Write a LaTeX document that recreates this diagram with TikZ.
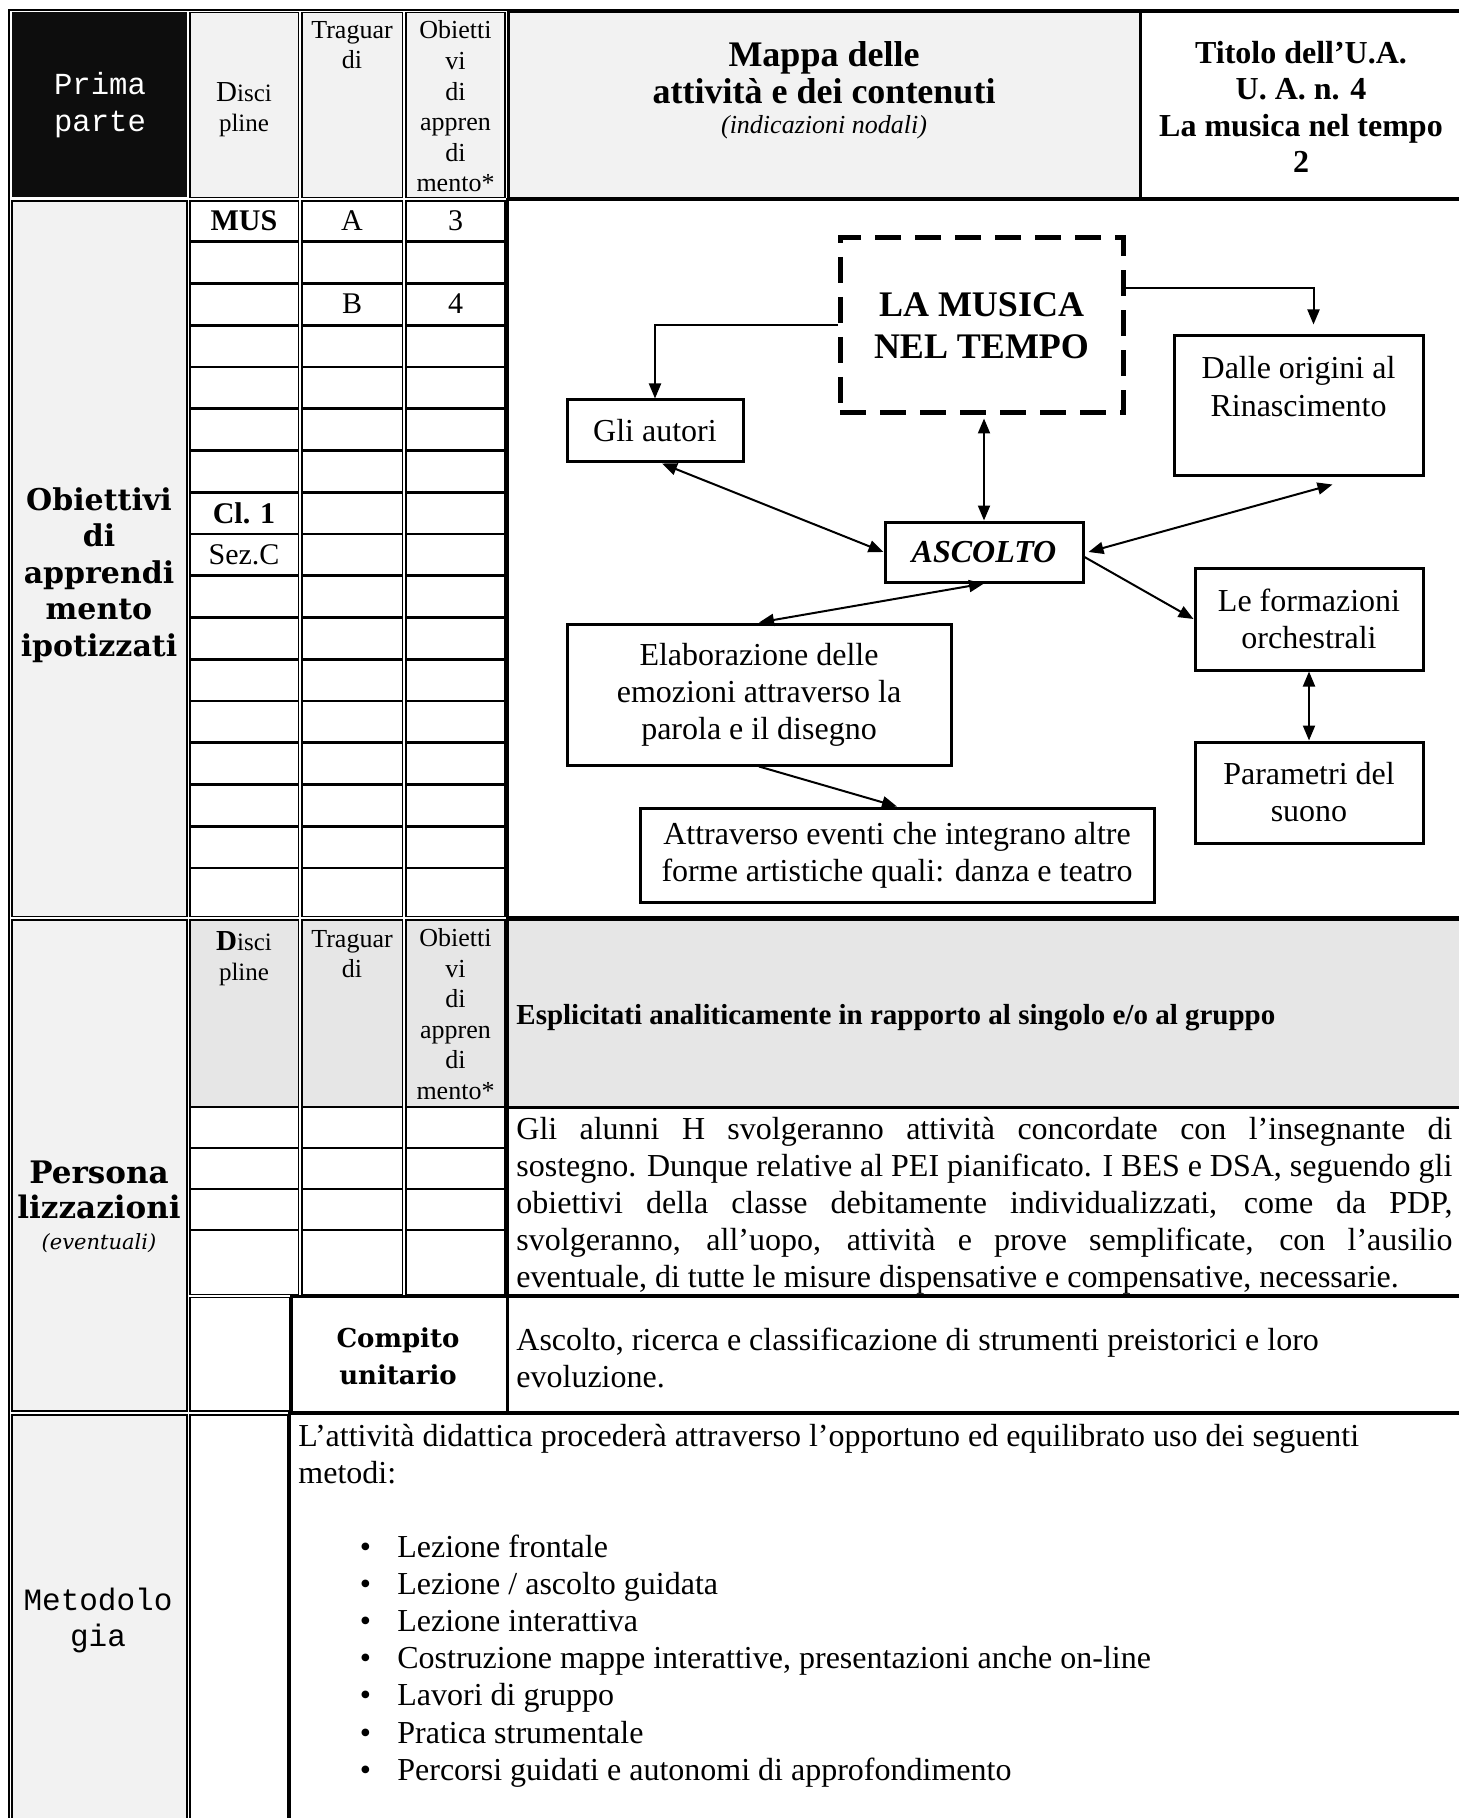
\documentclass[tikz,border=0pt]{standalone}
\usepackage{fontspec}
\setmainfont{Liberation Serif}
\newfontfamily\monof{Liberation Mono}
\newfontfamily\widef{DejaVu Serif}
\usetikzlibrary{arrows.meta,calc}
\newcommand\fsz[2]{\fontsize{#1}{#2}\selectfont}
\newcommand\blt{\makebox[18.8pt][l]{•}}
\definecolor{gF}{HTML}{F2F2F2}
\definecolor{gE}{HTML}{E6E6E6}
\definecolor{blk}{HTML}{0D0D0D}
\begin{document}
\begin{tikzpicture}[x=0.5pt,y=-0.5pt,
  cellthin/.style={line width=0.65pt},
  cellthick/.style={line width=1.5pt},
  rowln/.style={line width=1.3pt},
  mbox/.style={draw, line width=1.5pt, fill=white, align=center, inner sep=0pt, font=\fsz{16}{18.5}},
  conn/.style={line width=1pt},
  arr/.style={conn, -{Triangle[length=7.5pt,width=6pt]}},
  dbl/.style={conn, {Triangle[length=7.5pt,width=6pt]}-{Triangle[length=7.5pt,width=6pt]}},
  txt/.style={inner sep=0pt, align=center}]
\useasboundingbox (0,0) rectangle (1459,1818);
\clip (0,0) rectangle (1459,1818);
\fill[white] (0,0) rectangle (1459,1818);
% outer frame
\draw[line width=1pt] (9,1830) -- (9,10) -- (1475,10);
% ---------- header row
\fill[blk] (12,12.5) rectangle (187,197.5);
\filldraw[fill=gF, cellthin] (190,12.5) rectangle (298.5,197.5);
\filldraw[fill=gF, cellthin] (302,12.5) rectangle (402.5,197.5);
\filldraw[fill=gF, cellthin] (406,12.5) rectangle (505,197.5);
\filldraw[fill=gF, cellthick] (508,11.5) rectangle (1140,198.5);
\draw[cellthick] (1140,11.5) rectangle (1480,198.5);
% ---------- section 1
\filldraw[fill=gF, cellthin] (12,201) rectangle (187,916.5);
\foreach \xa/\xb in {190/298.5, 302/402.5, 406/505} {
  \draw[cellthin] (\xa,201) rectangle (\xb,916.5);
  \foreach \k in {1,...,16} { \draw[rowln] (\xa,200+\k*41.75) -- (\xb,200+\k*41.75); }
}
\draw[cellthick] (507.5,199.5) rectangle (1480,917);
% ---------- section 2
\filldraw[fill=gF, cellthin] (12,920) rectangle (187,1411);
\foreach \xa/\xb in {190/298.5, 302/402.5, 406/505} {
  \fill[gE] (\xa,920) rectangle (\xb,1107);
  \draw[cellthin] (\xa,920) rectangle (\xb,1294.5);
  \foreach \yy in {1107,1148,1189,1230} { \draw[rowln] (\xa,\yy) -- (\xb,\yy); }
}
\filldraw[fill=gE, cellthick] (507.5,919) rectangle (1480,1107);
\draw[cellthick] (507.5,1107) rectangle (1480,1295);
\draw[cellthin] (190,1297.5) rectangle (290,1411);
\draw[cellthick] (291.5,1296.5) rectangle (507.5,1412.5);
\draw[cellthick] (507.5,1296.5) rectangle (1480,1412.5);
% ---------- section 3
\filldraw[fill=gF, cellthin] (12,1415) rectangle (187,1830);
\draw[cellthin] (190,1415) rectangle (288,1830);
\draw[cellthick] (289.5,1413.5) rectangle (1480,1830);

% ---------- header texts
\node[txt, font=\monof\fsz{15.3}{18.5}, text=white] (lprima) at (100,105.5) {Prima\\parte};
\node[txt, font=\fsz{12.5}{15}] (hdisc) at (244,110) {{\fsz{14.5}{15}D}isci\\pline};
\node[txt, font=\fsz{13}{15}] (htrag) at (352,45) {Traguar\\di};
\node[txt, font=\fsz{13}{15.3}] (hobj) at (455.5,106.5) {Obietti\\vi\\di\\appren\\di\\mento*};
\node[txt, font=\fsz{18}{18.5}\bfseries] (hmap) at (824,73) {Mappa delle\\attività e dei contenuti};
\node[txt, font=\fsz{13}{15}\itshape] (hmapsub) at (824,127) {(indicazioni nodali)};
\node[txt, font=\fsz{16}{18.3}\bfseries] (htit) at (1301,107) {Titolo dell’U.A.\\U. A. n. 4\\La musica nel tempo\\2};

% ---------- section 1 texts
\node[txt, font=\widef\bfseries\fsz{15}{18.3}] (lobj) at (99,575) {Obiettivi\\di\\apprendi\\mento\\ipotizzati};
\node[txt, font=\fsz{15}{17}\bfseries] (mus) at (244,221) {MUS};
\node[txt, font=\fsz{15}{17}] (ta) at (352,221) {A};
\node[txt, font=\fsz{15}{17}] (o3) at (455.5,221) {3};
\node[txt, font=\fsz{15}{17}] (tb) at (352,304) {B};
\node[txt, font=\fsz{15}{17}] (o4) at (455.5,304) {4};
\node[txt, font=\fsz{15}{17}\bfseries] (cl1) at (244,513) {Cl. 1};
\node[txt, font=\fsz{15}{17}] (sezc) at (244,555) {Sez.C};

% ---------- map
\node[draw, line width=2.5pt, dash pattern=on 13pt off 7pt, minimum width=141.5pt, minimum height=87.5pt, align=center, inner sep=0pt, font=\fsz{18}{21}\bfseries] (musica) at (981.5,325.5) {LA MUSICA\\NEL TEMPO};
\node[mbox, minimum width=88pt, minimum height=31pt] (autori) at (655,431) {Gli autori};
\node[mbox, minimum width=124.5pt, minimum height=69.5pt] (dalle) at (1298.5,405.5) {};
\node[txt, font=\fsz{16}{19}] (dalleT) at (1298.5,387) {Dalle origini al\\Rinascimento};
\node[mbox, minimum width=99pt, minimum height=30pt, font=\fsz{16}{18.5}\bfseries\itshape] (ascolto) at (984,552) {ASCOLTO};
\node[mbox, minimum width=114pt, minimum height=51pt] (formaz) at (1309,619) {Le formazioni\\orchestrali};
\node[mbox, minimum width=114pt, minimum height=50.5pt] (param) at (1309,792.5) {Parametri del\\suono};
\node[mbox, minimum width=192pt, minimum height=70.5pt] (elab) at (759,694.5) {Elaborazione delle\\emozioni attraverso la\\parola e il disegno};
\node[mbox, minimum width=257pt, minimum height=47pt] (attr) at (897,855) {Attraverso eventi che integrano altre\\forme artistiche quali: danza e teatro};

\draw[arr] (musica.west) -| (autori.north);
\draw[arr, shorten >=5pt] ($(musica.north east)!0.29!(musica.south east)$) -| ([xshift=7.5pt]dalle.north);
\draw[dbl, shorten <=1.5pt] (musica.south -| ascolto.north) -- (ascolto.north);
\draw[dbl] ([xshift=3.5pt]autori.south) -- (ascolto.west);
\draw[dbl] ([xshift=17pt,yshift=-4pt]dalle.south) -- ([xshift=2pt]ascolto.east);
\draw[dbl] (ascolto.south) -- (elab.north);
\draw[arr] ([yshift=-2.5pt]ascolto.east) -- (formaz.west);
\draw[dbl] (formaz.south) -- (param.north);
\draw[arr] (elab.south) -- (attr.north);

% ---------- section 2 texts
\node[txt, font=\widef\bfseries\fsz{15.5}{17.5}] (lpers) at (99,1189.5) {Persona\\lizzazioni};
\node[txt, font=\widef\itshape\fsz{10.5}{12}] (leven) at (99,1243.5) {(eventuali)};
\node[txt, font=\fsz{12.5}{15}] (hdisc2) at (244,959) {{\fsz{14.5}{15}\bfseries D}isci\\pline};
\node[txt, font=\fsz{13}{15}] (htrag2) at (352,954) {Traguar\\di};
\node[txt, font=\fsz{13}{15.3}] (hobj2) at (455.5,1014) {Obietti\\vi\\di\\appren\\di\\mento*};
\node[anchor=west, inner sep=0pt, font=\fsz{14.5}{17}\bfseries] (hexp) at (516,1018) {Esplicitati analiticamente in rapporto al singolo e/o al gruppo};
\node[anchor=west, inner sep=0pt, align=left, font=\fsz{16}{18.5}] (palunni) at (516,1206) {\makebox[468pt][s]{Gli alunni H svolgeranno attività concordate con l’insegnante di}\\\makebox[468pt][s]{sostegno. Dunque relative al PEI pianificato. I BES e DSA, seguendo gli}\\\makebox[468pt][s]{obiettivi della classe debitamente individualizzati, come da PDP,}\\\makebox[468pt][s]{svolgeranno, all’uopo, attività e prove semplificate, con l’ausilio}\\eventuale, di tutte le misure dispensative e compensative, necessarie.};
\node[txt, font=\widef\bfseries\fsz{13}{18.5}] (lcomp) at (398,1356.5) {Compito\\unitario};
\node[anchor=west, inner sep=0pt, align=left, font=\fsz{16}{18.5}] (ptask) at (516,1358) {Ascolto, ricerca e classificazione di strumenti preistorici e loro\\evoluzione.};

% ---------- section 3 texts
\node[txt, font=\monof\fsz{15.5}{18}] (lmet) at (98,1620) {Metodolo\\gia};
\node[anchor=west, inner sep=0pt, align=left, font=\fsz{16}{18.5}] (pmet) at (298,1454) {L’attività didattica procederà attraverso l’opportuno ed equilibrato uso dei seguenti\\metodi:};
\node[anchor=west, inner sep=0pt, align=left, font=\fsz{16}{18.58}] (plist) at (359.4,1661) {\blt Lezione frontale\\\blt Lezione / ascolto guidata\\\blt Lezione interattiva\\\blt Costruzione mappe interattive, presentazioni anche on-line\\\blt Lavori di gruppo\\\blt Pratica strumentale\\\blt Percorsi guidati e autonomi di approfondimento};
\end{tikzpicture}
\end{document}
